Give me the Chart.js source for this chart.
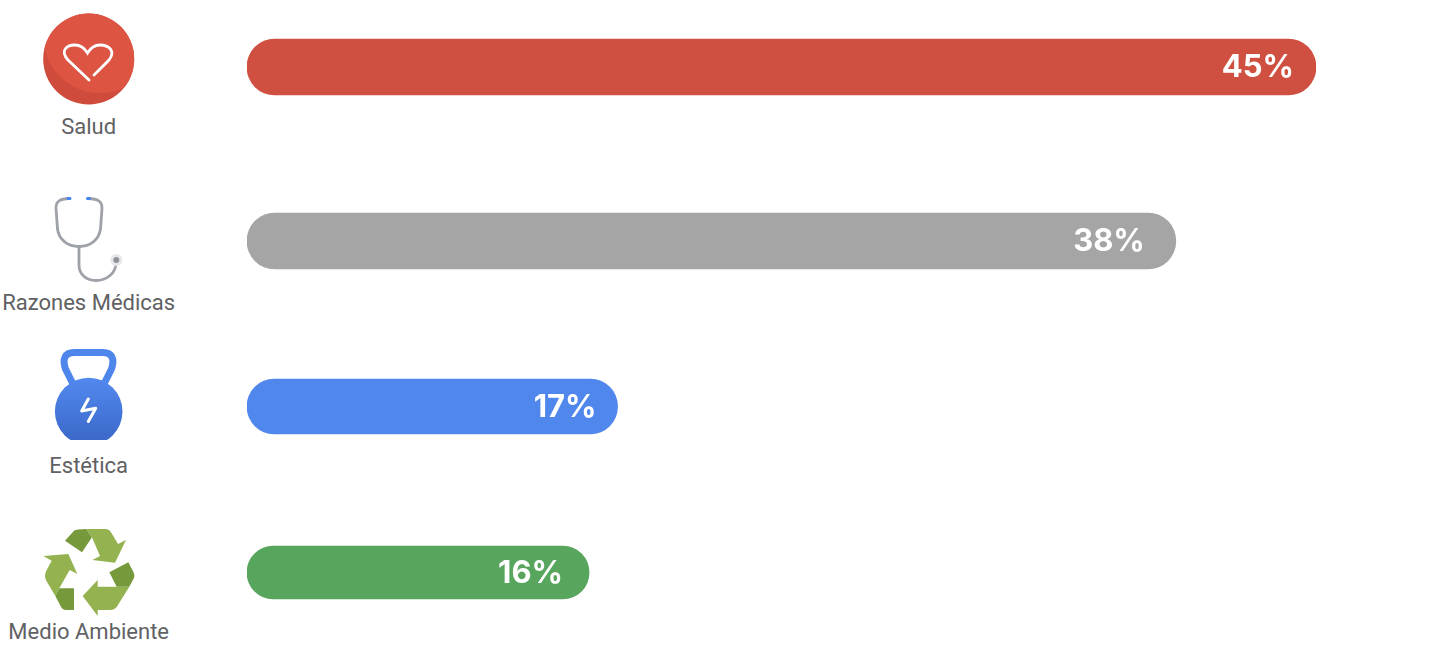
<!DOCTYPE html>
<html>
<head>
<meta charset="utf-8">
<script src="https://cdn.jsdelivr.net/npm/chart.js@4"></script>
<style>
html, body { margin: 0; padding: 0; background: #fff; overflow: hidden; }
#page { position: relative; width: 1438px; height: 664px; }
#page canvas { position: absolute; left: 247px; }
#icons { position: absolute; left: 0; top: 0; }
#icons text { font-family: Roboto, sans-serif; font-size: 22px; fill: #5f6163; text-anchor: middle; }
</style>
</head>
<body>
<div id="page">
  <svg id="icons" width="247" height="664">
    <defs>
      <clipPath id="bell"><rect x="40" y="360" width="100" height="80"/></clipPath>
      <clipPath id="disc"><circle cx="88.7" cy="59" r="45.5"/></clipPath>
      <linearGradient id="bellFill" x1="0" y1="0" x2="0" y2="1">
        <stop offset="0" stop-color="#5289ef"/><stop offset="1" stop-color="#3a66c6"/>
      </linearGradient>
    </defs>
    <!-- heart -->
    <circle cx="88.7" cy="59" r="45.5" fill="#cf4b3c"/>
    <circle cx="100" cy="36" r="57" fill="#dd5443" clip-path="url(#disc)"/>
    <path d="M89 80 L68 60 C60 51 66 45 75 45 C81 45 85 49 87.5 53 C90 49 94 45 100 45 C109 45 116 51 109 60 L94 75" fill="none" stroke="#fff" stroke-width="2.8" stroke-linecap="round"/>
    <text x="88.7" y="134">Salud</text>
    <!-- stethoscope -->
    <path d="M69 198.5 C60 199 56 201 56 208 L57.5 229 C59 240 68 246.5 79 246.5 C90 246.5 99 240 100.5 229 L102 208 C102 201 98 199 88 198.5" fill="none" stroke="#9ea1a8" stroke-width="2.8"/>
    <path d="M79 246.5 L79 265 C79 275 87 280.5 96 280.5 C106 280.5 116 274 116.3 262" fill="none" stroke="#9ea1a8" stroke-width="2.8"/>
    <circle cx="116.3" cy="260" r="6" fill="#e7e7e9"/>
    <circle cx="116.3" cy="260" r="3" fill="#8f9298"/>
    <path d="M68 198.5 H70 M87.5 198.5 H89.5" stroke="#4285f4" stroke-width="3" stroke-linecap="round"/>
    <text x="88.7" y="310">Razones Médicas</text>
    <!-- kettlebell -->
    <path d="M73 384 L65.5 369 C62 359 65 352.5 74 352.5 H103 C112 352.5 115 359 111.5 369 L104 384" fill="none" stroke="#4f86ec" stroke-width="7"/>
    <circle cx="88.7" cy="411.5" r="33.8" fill="url(#bellFill)" clip-path="url(#bell)"/>
    <path d="M88.3 399 L81.7 411 L95.7 408.3 L88.3 421.5" fill="none" stroke="#fff" stroke-width="3" stroke-linecap="round" stroke-linejoin="round"/>
    <text x="88.7" y="473">Estética</text>
    <!-- recycle arrows, traced at 3x -->
    <g transform="translate(0 520) scale(.33333)">
      <path fill="#76993c" d="M195 62 L222 32 Q228 27 258 27 L276 52 L246 97 Z"/>
      <path fill="#94b350" d="M258 27 H316 Q328 27 335 40 L354 72 L378 60 L345 128 L277 120 L300 108 L276 52 Z"/>
      <path fill="#94b350" d="M130 108 L205 102 L232 162 L209 150 L178 205 L166 228 L139 182 Q131 168 139 152 L155 122 Z"/>
      <path fill="#76993c" d="M178 205 H222 V270 H198 Q188 270 183 260 L166 228 Z"/>
      <path fill="#94b350" d="M248 228 L293 180 V200 H388 L352 258 Q345 270 330 270 H293 V288 Z"/>
      <path fill="#76993c" d="M328 157 L385 127 L400 155 Q406 168 400 178 L388 200 H350 Z"/>
    </g>
    <text x="88.7" y="639">Medio Ambiente</text>
  </svg>
  <canvas id="row0"></canvas>
  <canvas id="row1"></canvas>
  <canvas id="row2"></canvas>
  <canvas id="row3"></canvas>
</div>
<script>
const categories = ['Salud', 'Razones Médicas', 'Estética', 'Medio Ambiente']
// printed percentages
const shares = [45, 38, 17, 16]
// bar lengths as drawn in the picture, they are not quite proportional to the printed numbers
const barLengths = [45, 39.1, 15.6, 14.4]
const colors = ['#cf5040', '#a5a5a5', '#5087ec', '#58a55e']
const rowCenters = [67, 241, 406.5, 572.5]
const rowThickness = [56, 56, 55, 53]
const labelInsets = [22, 31, 21, 26]

const shareLabel = {
    id: 'shareLabel',
    afterDatasetsDraw(chart, args, opts) {
        const bar = chart.getDatasetMeta(0).data[0]
        const ctx = chart.ctx
        ctx.save()
        ctx.font = '700 31px Inter, sans-serif'
        ctx.fillStyle = '#fff'
        ctx.textAlign = 'right'
        ctx.textBaseline = 'middle'
        ctx.fillText(opts.text, bar.x - opts.inset, bar.y + 1)
        ctx.restore()
    }
}

categories.forEach(function (name, i) {
    const canvas = document.getElementById('row' + i)
    canvas.width = 1069
    canvas.height = rowThickness[i] + 4
    canvas.style.top = (rowCenters[i] - canvas.height / 2) + 'px'
    new Chart(canvas, {
        type: 'bar',
        data: {
            labels: [name],
            datasets: [{
                data: [barLengths[i]],
                backgroundColor: colors[i],
                borderRadius: 28,
                borderSkipped: false,
                barThickness: rowThickness[i],
            }]
        },
        options: {
            indexAxis: 'y',
            responsive: false,
            animation: false,
            layout: { padding: 0 },
            plugins: {
                legend: { display: false },
                tooltip: { enabled: false },
                shareLabel: { text: shares[i] + '%', inset: labelInsets[i] },
            },
            scales: {
                x: { display: false, min: 0, max: 45 },
                y: { display: false },
            }
        },
        plugins: [shareLabel],
    })
})
</script>
</body>
</html>
